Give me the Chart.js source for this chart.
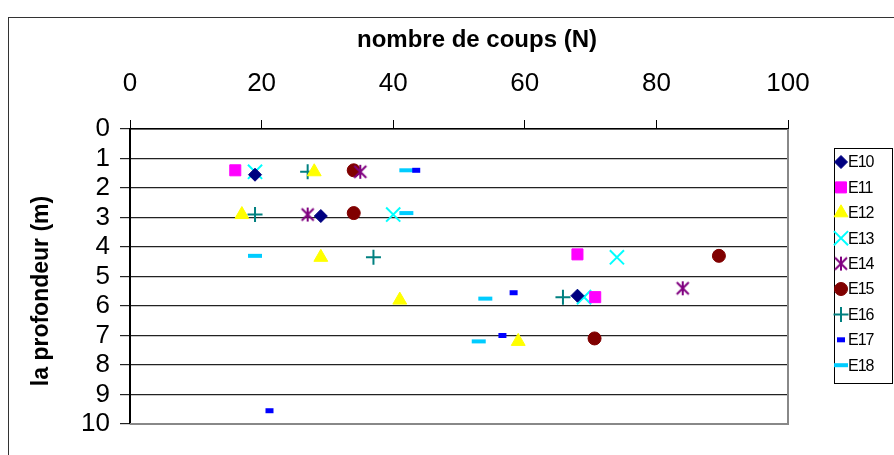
<!DOCTYPE html>
<html><head><meta charset="utf-8">
<script src="https://cdn.jsdelivr.net/npm/chart.js@4/dist/chart.umd.min.js"></script>
<style>html,body{margin:0;padding:0;background:#fff;overflow:hidden}#wrap{position:relative;width:894px;height:455px}</style>
</head><body><div id="wrap"><canvas id="c" width="894" height="455"></canvas></div>
<script>
// ---- data (x = nombre de coups N, y = profondeur m) ----
const seriesNames = ['E10','E11','E12','E13','E14','E15','E16','E17','E18'];
const xTicks = [0,20,40,60,80,100];
const yTicks = [0,1,2,3,4,5,6,7,8,9,10];
const xTitle = 'nombre de coups (N)';
const yTitle = 'la profondeur (m)';
const E10 = [{x:19,y:1.55},{x:29,y:2.95},{x:68,y:5.65}];
const E11 = [{x:16,y:1.4},{x:68,y:4.25},{x:70.7,y:5.7}];
const E12 = [{x:28,y:1.45},{x:17,y:2.9},{x:29,y:4.35},{x:41,y:5.8},{x:59,y:7.2}];
const E13 = [{x:19,y:1.45},{x:40,y:2.9},{x:74,y:4.35},{x:69,y:5.7}];
const E14 = [{x:35,y:1.45},{x:27,y:2.9},{x:84,y:5.4}];
const E15 = [{x:34,y:1.4},{x:34,y:2.85},{x:89.5,y:4.3},{x:70.6,y:7.1}];
const E16 = [{x:27,y:1.45},{x:19,y:2.9},{x:37,y:4.35},{x:65.8,y:5.7}];
const E17 = [{x:43.5,y:1.4},{x:58.3,y:5.55},{x:56.6,y:7.0},{x:21.2,y:9.55}];
const E18 = [{x:42,y:1.4},{x:42,y:2.85},{x:19,y:4.3},{x:54,y:5.75},{x:53,y:7.2}];
const seriesData = [E10,E11,E12,E13,E14,E15,E16,E17,E18];

// ---- styles ----
const colors = ['#000080','#FF00FF','#FFFF00','#00FFFF','#800080','#800000','#008080','#0000FF','#00CCFF'];
function makeAsterisk(color){
  const c=document.createElement('canvas'); c.width=16; c.height=16;
  const g=c.getContext('2d'); g.strokeStyle=color; g.lineWidth=2;
  g.beginPath(); g.moveTo(2,2); g.lineTo(14,14); g.moveTo(14,2); g.lineTo(2,14); g.moveTo(8,1); g.lineTo(8,15); g.stroke();
  return c;
}
const styles = [
  {s:'rectRot', r:6.5, bw:1},
  {s:'rect', r:7.8, bw:1},
  {s:'triangle', r:8, bw:1},
  {s:'crossRot', r:10, bw:2},
  {s:makeAsterisk('#800080'), r:8, bw:1},
  {s:'circle', r:6.5, bw:1},
  {s:'cross', r:7.5, bw:2},
  {s:'line', r:4, bw:5},
  {s:'line', r:7, bw:4}
];

const datasets = seriesNames.map((n,i)=>({
  label:n, data:seriesData[i],
  pointStyle:styles[i].s, pointRadius:styles[i].r, pointHoverRadius:styles[i].r,
  pointBorderWidth:styles[i].bw, backgroundColor:colors[i], borderColor:colors[i], showLine:false
}));

function drawMarker(ctx, st, color, x, y){
  const r=st.r; ctx.save(); ctx.fillStyle=color; ctx.strokeStyle=color; ctx.lineWidth=st.bw;
  ctx.beginPath();
  const s=st.s;
  if (typeof s !== 'string'){ ctx.drawImage(s, x-s.width/2, y-s.height/2); ctx.restore(); return; }
  if (s==='rectRot'){ ctx.moveTo(x,y-r); ctx.lineTo(x+r,y); ctx.lineTo(x,y+r); ctx.lineTo(x-r,y); ctx.closePath(); ctx.fill(); ctx.stroke(); }
  else if (s==='rect'){ const h=Math.SQRT1_2*r; ctx.rect(x-h,y-h,2*h,2*h); ctx.fill(); ctx.stroke(); }
  else if (s==='triangle'){ const a=Math.sin(Math.PI/3)*r; ctx.moveTo(x,y-r); ctx.lineTo(x+a,y+r/2); ctx.lineTo(x-a,y+r/2); ctx.closePath(); ctx.fill(); ctx.stroke(); }
  else if (s==='crossRot'){ const h=Math.SQRT1_2*r; ctx.moveTo(x-h,y-h); ctx.lineTo(x+h,y+h); ctx.moveTo(x+h,y-h); ctx.lineTo(x-h,y+h); ctx.stroke(); }
  else if (s==='cross'){ ctx.moveTo(x-r,y); ctx.lineTo(x+r,y); ctx.moveTo(x,y-r); ctx.lineTo(x,y+r); ctx.stroke(); }
  else if (s==='circle'){ ctx.arc(x,y,r,0,Math.PI*2); ctx.fill(); ctx.stroke(); }
  else if (s==='line'){ ctx.moveTo(x-r,y); ctx.lineTo(x+r,y); ctx.stroke(); }
  ctx.restore();
}

const framePlugin = {
  id:'frame',
  beforeDraw(chart){
    const ctx=chart.ctx; ctx.save(); ctx.fillStyle='#fff'; ctx.fillRect(0,0,chart.width,chart.height);
    ctx.strokeStyle='#333'; ctx.lineWidth=1; ctx.strokeRect(8.5,17.5,950,500); ctx.restore();
  },
  beforeDatasetsDraw(chart){
    const a=chart.chartArea, ctx=chart.ctx; ctx.save(); ctx.strokeStyle='#888'; ctx.lineWidth=2;
    ctx.beginPath(); ctx.moveTo(a.right,a.top); ctx.lineTo(a.right,a.bottom); ctx.lineTo(a.left,a.bottom); ctx.stroke(); ctx.restore();
  },
  afterDraw(chart){
    const ctx=chart.ctx; ctx.save();
    // axis titles
    ctx.fillStyle='#000'; ctx.textAlign='center'; ctx.textBaseline='middle';
    ctx.font='bold 24px "Liberation Sans", Arial, sans-serif';
    ctx.fillText(xTitle, 477, 40);
    ctx.save(); ctx.translate(42, 291); ctx.rotate(-Math.PI/2);
    ctx.font='bold 23px "Liberation Sans", Arial, sans-serif';
    ctx.fillText(yTitle, 0, 0); ctx.restore();
    // legend
    ctx.fillStyle='#fff'; ctx.fillRect(834,148,58,235);
    ctx.strokeStyle='#000'; ctx.lineWidth=1; ctx.strokeRect(834.5,148.5,58,235);
    chart.data.datasets.forEach((ds,i)=>{
      const y=162+i*25.4;
      drawMarker(ctx, styles[i], colors[i], 841, y);
      ctx.fillStyle='#000'; ctx.font='16px "Liberation Sans", Arial, sans-serif'; ctx.textBaseline='middle'; ctx.textAlign='left';
      try{ ctx.letterSpacing='-1px'; }catch(e){}
      ctx.fillText(ds.label, 848, y+1);
    });
    ctx.restore();
  }
};

Chart.defaults.font.family='"Liberation Sans", Arial, sans-serif';
Chart.defaults.color='#000';
new Chart(document.getElementById('c'), {
  type:'scatter',
  data:{datasets},
  options:{
    responsive:false, animation:false, devicePixelRatio:1,
    layout:{padding:{left:9,top:17,right:106,bottom:31}},
    plugins:{legend:{display:false}, tooltip:{enabled:false}},
    scales:{
      x:{type:'linear', position:'top', min:0, max:100,
        afterBuildTicks(s){ s.ticks = xTicks.map(v=>({value:v})); },
        ticks:{font:{size:26}, color:'#000', padding:21, maxRotation:0, autoSkip:false},
        grid:{drawOnChartArea:false, tickLength:9, color:'#000', lineWidth:1},
        border:{color:'#000', width:1.5},
        title:{display:false, text:xTitle},
        afterFit(s){ s.height=112; }
      },
      y:{type:'linear', reverse:true, min:0, max:10,
        afterBuildTicks(s){ s.ticks = yTicks.map(v=>({value:v})); },
        ticks:{font:{size:26}, color:'#000', padding:10, autoSkip:false},
        grid:{color:'#222', lineWidth:1.2, tickLength:10},
        border:{color:'#000', width:2},
        title:{display:false, text:yTitle},
        afterFit(s){ s.width=121; }
      }
    }
  },
  plugins:[framePlugin]
});
</script></body></html>
